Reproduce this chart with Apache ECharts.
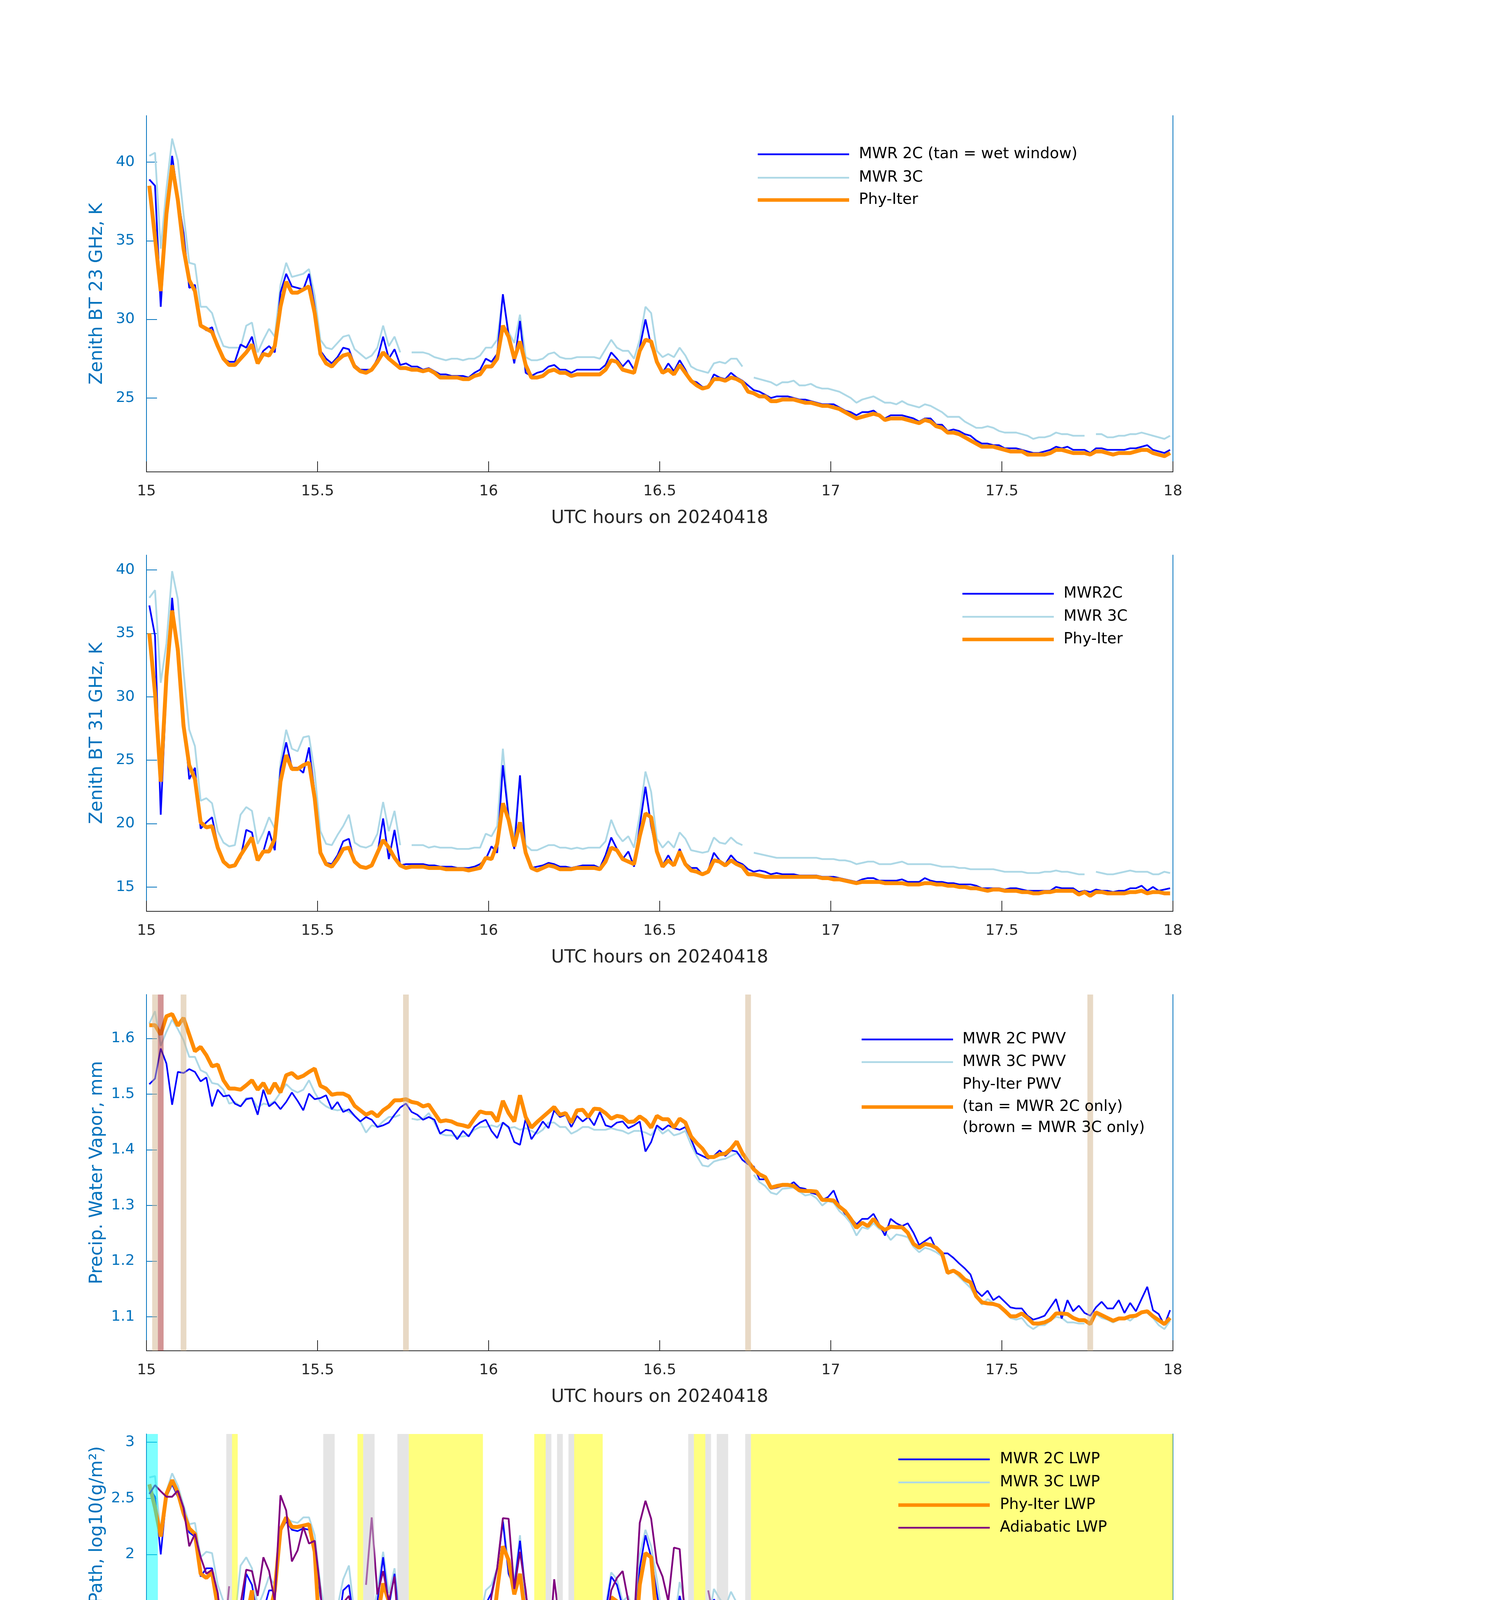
<!DOCTYPE html>
<html>
<head>
<meta charset="utf-8">
<title>MWR retrievals 20240418</title>
<script src="https://cdn.jsdelivr.net/npm/echarts@6.0.0/dist/echarts.min.js"></script>
<style>
html, body { margin: 0; padding: 0; background: #fff; }
#main { width: 3825px; height: 6000px; }
</style>
</head>
<body>
<div id="main"></div>
<script>
//start hour of the one-minute grid (values sit in the middle of each minute)
var T0 = 15;

//23 GHz brightness temperature, K
var tb23Mwr2c = [
    38.9, 38.5, 30.8, 36.6, 40.4, 37.8, 35.5, 32.0, 32.2, 29.6,
    29.3, 29.5, 28.3, 27.5, 27.3, 27.3, 28.4, 28.2, 28.9, 27.3,
    28.0, 28.3, 27.9, 31.7, 32.9, 32.1, 32.0, 31.9, 32.9, 30.8,
    28.0, 27.5, 27.2, 27.6, 28.2, 28.1, 27.1, 26.8, 26.8, 26.8,
    27.5, 28.9, 27.5, 28.1, 27.1, 27.2, 27.0, 27.0, 26.8, 26.9,
    26.7, 26.5, 26.5, 26.4, 26.4, 26.4, 26.3, 26.6, 26.8, 27.5,
    27.3, 27.8, 31.6, 29.0, 27.2, 29.9, 26.6, 26.4, 26.6, 26.7,
    27.0, 27.1, 26.8, 26.8, 26.6, 26.8, 26.8, 26.8, 26.8, 26.8,
    27.1, 27.9, 27.5, 27.0, 27.4, 26.8, 28.2, 30.0, 28.3, 27.3,
    26.6, 27.2, 26.7, 27.4, 26.8, 26.1, 26.0, 25.7, 25.7, 26.5,
    26.3, 26.2, 26.6, 26.3, 26.1, 25.8, 25.5, 25.4, 25.2, 25.0,
    25.1, 25.1, 25.1, 25.0, 24.9, 24.9, 24.8, 24.7, 24.6, 24.6,
    24.6, 24.4, 24.2, 24.1, 23.9, 24.1, 24.1, 24.2, 23.9, 23.7,
    23.9, 23.9, 23.9, 23.8, 23.7, 23.5, 23.7, 23.7, 23.3, 23.3,
    22.9, 23.0, 22.9, 22.7, 22.6, 22.3, 22.1, 22.1, 22.0, 22.0,
    21.8, 21.8, 21.8, 21.7, 21.6, 21.5, 21.5, 21.6, 21.7, 21.9,
    21.8, 21.9, 21.7, 21.7, 21.7, 21.5, 21.8, 21.8, 21.7, 21.7,
    21.7, 21.7, 21.8, 21.8, 21.9, 22.0, 21.7, 21.6, 21.5, 21.7
];
var tb23Mwr3c = [
    40.4, 40.6, 34.5, 38.3, 41.5, 40.1, 36.7, 33.6, 33.5, 30.8,
    30.8, 30.4, 29.2, 28.3, 28.2, 28.2, 28.2, 29.6, 29.8, 27.9,
    28.7, 29.4, 28.9, 32.2, 33.6, 32.7, 32.8, 32.9, 33.2, 31.5,
    28.7, 28.2, 28.1, 28.5, 28.9, 29.0, 28.1, 27.8, 27.5, 27.7,
    28.2, 29.6, 28.3, 28.9, 27.9, null, 27.9, 27.9, 27.9, 27.8,
    27.6, 27.5, 27.4, 27.5, 27.5, 27.4, 27.5, 27.5, 27.7, 28.2,
    28.2, 28.7, 31.5, 29.2, 28.5, 30.3, 27.6, 27.4, 27.4, 27.5,
    27.8, 27.9, 27.6, 27.5, 27.5, 27.6, 27.6, 27.6, 27.6, 27.5,
    28.1, 28.7, 28.2, 28.0, 28.0, 27.5, 28.7, 30.8, 30.4, 28.0,
    27.6, 27.8, 27.6, 28.2, 27.7, 27.0, 26.8, 26.7, 26.6, 27.2,
    27.3, 27.2, 27.5, 27.5, 27.0, null, 26.3, 26.2, 26.1, 26.0,
    25.8, 26.0, 26.0, 26.1, 25.8, 25.8, 25.9, 25.7, 25.6, 25.6,
    25.5, 25.4, 25.2, 25.0, 24.7, 24.9, 25.0, 25.1, 24.9, 24.7,
    24.7, 24.6, 24.8, 24.6, 24.5, 24.4, 24.6, 24.5, 24.3, 24.1,
    23.8, 23.8, 23.8, 23.5, 23.3, 23.1, 23.1, 23.2, 23.1, 22.9,
    22.8, 22.8, 22.8, 22.7, 22.6, 22.4, 22.5, 22.5, 22.6, 22.8,
    22.7, 22.7, 22.6, 22.6, 22.6, null, 22.7, 22.7, 22.5, 22.5,
    22.6, 22.6, 22.7, 22.7, 22.8, 22.7, 22.6, 22.5, 22.4, 22.6
];
var tb23PhyIter = [
    38.5, 35.2, 31.8, 36.7, 39.8, 37.6, 34.5, 32.5, 31.8, 29.6,
    29.4, 29.2, 28.3, 27.5, 27.1, 27.1, 27.5, 27.9, 28.4, 27.2,
    27.8, 27.7, 28.3, 30.8, 32.4, 31.7, 31.7, 31.9, 32.1, 30.4,
    27.8, 27.2, 27.0, 27.4, 27.7, 27.8, 27.0, 26.7, 26.6, 26.8,
    27.3, 27.9, 27.5, 27.2, 26.9, 26.9, 26.8, 26.8, 26.7, 26.8,
    26.6, 26.3, 26.3, 26.3, 26.3, 26.2, 26.2, 26.4, 26.5, 27.0,
    27.0, 27.5, 29.6, 28.9, 27.5, 28.6, 27.1, 26.3, 26.3, 26.4,
    26.7, 26.8, 26.6, 26.6, 26.4, 26.5, 26.5, 26.5, 26.5, 26.5,
    26.8, 27.4, 27.3, 26.8, 26.7, 26.6, 28.0, 28.7, 28.6, 27.3,
    26.6, 26.8, 26.5, 27.1, 26.6, 26.1, 25.8, 25.6, 25.7, 26.2,
    26.2, 26.1, 26.3, 26.2, 26.0, 25.4, 25.3, 25.1, 25.1, 24.8,
    24.8, 24.9, 24.9, 24.9, 24.8, 24.7, 24.7, 24.6, 24.5, 24.5,
    24.4, 24.3, 24.1, 23.9, 23.7, 23.8, 23.9, 24.0, 23.9, 23.6,
    23.7, 23.7, 23.7, 23.6, 23.5, 23.4, 23.6, 23.5, 23.2, 23.1,
    22.8, 22.8, 22.7, 22.5, 22.3, 22.1, 21.9, 21.9, 21.9, 21.8,
    21.7, 21.6, 21.6, 21.6, 21.4, 21.4, 21.4, 21.4, 21.5, 21.7,
    21.7, 21.6, 21.5, 21.5, 21.5, 21.4, 21.6, 21.6, 21.5, 21.4,
    21.5, 21.5, 21.5, 21.6, 21.7, 21.7, 21.5, 21.4, 21.3, 21.5
];
var tb23PhyIterErr = 0.2;

//31 GHz brightness temperature, K
var tb31Mwr2c = [
    37.2, 34.8, 20.7, 30.7, 37.8, 32.9, 28.5, 23.5, 24.4, 19.6,
    20.1, 20.5, 18.3, 17.1, 16.7, 16.7, 17.3, 19.5, 19.3, 17.1,
    17.8, 19.4, 17.9, 24.3, 26.4, 24.4, 24.4, 24.0, 26.0, 22.4,
    17.8, 16.9, 16.8, 17.5, 18.6, 18.8, 16.9, 16.6, 16.5, 16.7,
    17.6, 20.4, 17.2, 19.5, 16.7, 16.8, 16.8, 16.8, 16.8, 16.7,
    16.7, 16.6, 16.6, 16.6, 16.5, 16.5, 16.5, 16.6, 16.8, 17.2,
    18.2, 17.7, 24.6, 20.5, 18.0, 23.8, 17.5, 16.5, 16.6, 16.7,
    16.9, 16.8, 16.6, 16.6, 16.5, 16.6, 16.7, 16.7, 16.7, 16.5,
    17.5, 18.9, 18.0, 17.2, 17.8, 16.6, 19.8, 22.9, 19.8, 17.7,
    16.7, 17.5, 16.7, 18.0, 16.9, 16.5, 16.5, 16.0, 16.3, 17.7,
    17.1, 16.8, 17.5, 17.0, 16.8, 16.4, 16.2, 16.3, 16.2, 16.0,
    16.1, 16.0, 16.0, 16.0, 15.9, 15.9, 15.9, 15.9, 15.8, 15.8,
    15.8, 15.7, 15.6, 15.5, 15.4, 15.6, 15.7, 15.7, 15.5, 15.5,
    15.5, 15.5, 15.6, 15.4, 15.4, 15.4, 15.7, 15.5, 15.4, 15.4,
    15.3, 15.3, 15.2, 15.2, 15.2, 15.1, 14.9, 14.9, 14.9, 14.9,
    14.8, 14.9, 14.9, 14.8, 14.7, 14.7, 14.7, 14.7, 14.7, 15.0,
    14.9, 14.9, 14.9, 14.6, 14.7, 14.6, 14.8, 14.7, 14.7, 14.6,
    14.7, 14.7, 14.9, 14.9, 15.1, 14.7, 15.0, 14.7, 14.8, 14.9
];
var tb31Mwr3c = [
    37.8, 38.4, 31.1, 34.2, 39.9, 37.7, 32.0, 27.4, 26.1, 21.8,
    22.0, 21.6, 19.4, 18.5, 18.2, 18.3, 20.7, 21.3, 21.0, 18.4,
    19.3, 20.5, 19.6, 24.8, 27.4, 25.9, 25.7, 26.8, 26.9, 24.0,
    19.4, 18.4, 18.3, 19.1, 19.8, 20.7, 18.5, 18.2, 18.1, 18.3,
    19.2, 21.7, 19.4, 21.0, 18.3, null, 18.3, 18.3, 18.3, 18.1,
    18.2, 18.1, 18.1, 18.1, 18.0, 18.0, 18.0, 18.1, 18.1, 19.2,
    19.0, 19.8, 25.9, 20.7, 18.8, 23.8, 18.3, 17.9, 17.9, 18.1,
    18.3, 18.3, 18.1, 18.1, 18.0, 18.1, 18.0, 18.1, 18.1, 18.1,
    18.6, 20.3, 19.2, 18.6, 19.0, 18.1, 20.7, 24.1, 22.5, 18.8,
    18.1, 18.6, 18.1, 19.3, 18.8, 17.9, 17.8, 17.7, 17.8, 18.9,
    18.5, 18.4, 18.9, 18.5, 18.3, null, 17.7, 17.6, 17.5, 17.4,
    17.3, 17.3, 17.3, 17.3, 17.3, 17.3, 17.3, 17.3, 17.2, 17.2,
    17.2, 17.1, 17.1, 17.0, 16.8, 16.9, 17.0, 17.0, 16.8, 16.8,
    16.8, 16.9, 17.0, 16.8, 16.8, 16.8, 16.8, 16.8, 16.7, 16.6,
    16.6, 16.6, 16.5, 16.5, 16.4, 16.4, 16.4, 16.4, 16.4, 16.3,
    16.2, 16.2, 16.2, 16.2, 16.1, 16.1, 16.1, 16.2, 16.2, 16.3,
    16.2, 16.2, 16.1, 16.0, 16.0, null, 16.2, 16.1, 16.0, 16.0,
    16.1, 16.2, 16.3, 16.2, 16.2, 16.2, 16.0, 16.0, 16.2, 16.1
];
var tb31PhyIter = [
    35.0, 30.3, 23.3, 31.6, 36.8, 33.7, 27.7, 24.6, 23.5, 20.1,
    19.7, 19.8, 18.1, 17.0, 16.6, 16.7, 17.5, 18.2, 18.9, 17.1,
    17.8, 17.8, 18.8, 23.3, 25.4, 24.3, 24.3, 24.6, 24.8, 22.0,
    17.7, 16.8, 16.6, 17.2, 18.0, 18.1, 17.0, 16.6, 16.5, 16.7,
    17.7, 18.7, 18.1, 17.3, 16.7, 16.5, 16.6, 16.6, 16.6, 16.5,
    16.5, 16.5, 16.4, 16.4, 16.4, 16.4, 16.3, 16.4, 16.5, 17.3,
    17.2, 18.4, 21.6, 20.3, 18.2, 20.1, 17.7, 16.5, 16.3, 16.5,
    16.7, 16.6, 16.4, 16.4, 16.4, 16.5, 16.5, 16.5, 16.5, 16.4,
    17.0, 18.1, 17.9, 17.2, 17.0, 16.8, 19.0, 20.8, 20.5, 17.8,
    16.6, 17.1, 16.7, 17.8, 16.8, 16.3, 16.2, 16.0, 16.2, 17.1,
    17.0, 16.7, 17.1, 16.8, 16.6, 16.0, 16.0, 15.9, 15.8, 15.8,
    15.8, 15.8, 15.8, 15.8, 15.8, 15.8, 15.8, 15.8, 15.7, 15.7,
    15.6, 15.6, 15.5, 15.4, 15.3, 15.4, 15.4, 15.4, 15.4, 15.3,
    15.3, 15.3, 15.3, 15.2, 15.2, 15.2, 15.3, 15.3, 15.2, 15.2,
    15.1, 15.1, 15.0, 15.0, 14.9, 14.9, 14.8, 14.7, 14.8, 14.8,
    14.7, 14.7, 14.7, 14.6, 14.6, 14.5, 14.5, 14.6, 14.6, 14.7,
    14.7, 14.7, 14.7, 14.4, 14.6, 14.3, 14.6, 14.6, 14.5, 14.5,
    14.5, 14.5, 14.6, 14.6, 14.7, 14.5, 14.6, 14.6, 14.5, 14.5
];

//precipitable water vapour, mm
var pwvMwr2c = [
    1.518, 1.528, 1.582, 1.555, 1.481, 1.540, 1.538, 1.545, 1.540, 1.523,
    1.530, 1.478, 1.508, 1.496, 1.498, 1.483, 1.478, 1.491, 1.493, 1.463,
    1.508, 1.478, 1.486, 1.473, 1.486, 1.503, 1.488, 1.471, 1.501, 1.491,
    1.493, 1.498, 1.473, 1.486, 1.468, 1.473, 1.461, 1.451, 1.459, 1.454,
    1.441, 1.444, 1.449, 1.463, 1.476, 1.483, 1.468, 1.463, 1.454, 1.459,
    1.454, 1.429, 1.436, 1.434, 1.419, 1.434, 1.424, 1.441, 1.449, 1.454,
    1.434, 1.421, 1.449, 1.441, 1.414, 1.409, 1.456, 1.419, 1.434, 1.451,
    1.439, 1.471, 1.459, 1.463, 1.441, 1.461, 1.451, 1.459, 1.444, 1.468,
    1.444, 1.441, 1.449, 1.451, 1.439, 1.444, 1.451, 1.397, 1.414, 1.444,
    1.436, 1.444, 1.439, 1.436, 1.441, 1.419, 1.394, 1.389, 1.384, 1.389,
    1.399, 1.389, 1.399, 1.397, 1.382, 1.374, 1.370, 1.347, 1.347, 1.330,
    1.332, 1.335, 1.335, 1.342, 1.332, 1.330, 1.323, 1.320, 1.310, 1.315,
    1.327, 1.300, 1.285, 1.278, 1.266, 1.276, 1.276, 1.285, 1.266, 1.246,
    1.276, 1.268, 1.263, 1.268, 1.251, 1.229, 1.236, 1.243, 1.221, 1.214,
    1.214, 1.206, 1.196, 1.187, 1.176, 1.147, 1.137, 1.147, 1.130, 1.137,
    1.127, 1.117, 1.115, 1.115, 1.102, 1.095, 1.098, 1.102, 1.117, 1.132,
    1.097, 1.130, 1.110, 1.120, 1.107, 1.102, 1.117, 1.127, 1.115, 1.115,
    1.130, 1.107, 1.125, 1.110, 1.132, 1.154, 1.112, 1.105, 1.085, 1.112
];
var pwvMwr3c = [
    1.627, 1.649, 1.587, 1.612, 1.634, 1.617, 1.597, 1.567, 1.567, 1.543,
    1.538, 1.520, 1.518, 1.508, 1.483, 1.486, 1.478, 1.493, 1.493, 1.476,
    1.483, 1.481, 1.488, 1.503, 1.518, 1.508, 1.503, 1.508, 1.525, 1.503,
    1.486, 1.478, 1.473, 1.471, 1.473, 1.468, 1.461, 1.451, 1.431, 1.444,
    1.441, 1.451, 1.459, 1.459, 1.463, null, 1.456, 1.454, 1.456, 1.466,
    1.449, 1.429, 1.426, 1.426, 1.424, 1.424, 1.426, 1.436, 1.441, 1.441,
    1.444, 1.441, 1.449, 1.439, 1.441, 1.436, 1.439, 1.434, 1.429, 1.436,
    1.449, 1.449, 1.441, 1.441, 1.429, 1.434, 1.441, 1.441, 1.436, 1.436,
    1.436, 1.439, 1.436, 1.434, 1.429, 1.434, 1.434, 1.431, 1.426, 1.441,
    1.429, 1.436, 1.426, 1.429, 1.434, 1.409, 1.389, 1.372, 1.370, 1.379,
    1.382, 1.384, 1.389, 1.394, 1.389, null, 1.355, 1.342, 1.335, 1.323,
    1.320, 1.330, 1.331, 1.332, 1.325, 1.318, 1.320, 1.313, 1.300, 1.308,
    1.305, 1.290, 1.281, 1.268, 1.246, 1.261, 1.258, 1.268, 1.258, 1.253,
    1.238, 1.248, 1.246, 1.243, 1.226, 1.216, 1.224, 1.221, 1.216, 1.209,
    1.177, 1.182, 1.172, 1.162, 1.152, 1.135, 1.122, 1.132, 1.125, 1.117,
    1.110, 1.098, 1.095, 1.098, 1.085, 1.078, 1.085, 1.085, 1.093, 1.100,
    1.098, 1.090, 1.090, 1.088, 1.088, null, 1.105, 1.098, 1.095, 1.090,
    1.095, 1.099, 1.093, 1.102, 1.110, 1.107, 1.098, 1.085, 1.078, 1.093
];
var pwvPhyIter = [
    1.624, 1.624, 1.607, 1.640, 1.644, 1.623, 1.637, 1.607, 1.577, 1.585,
    1.570, 1.550, 1.553, 1.525, 1.510, 1.510, 1.508, 1.516, 1.525, 1.508,
    1.520, 1.501, 1.520, 1.503, 1.534, 1.538, 1.529, 1.533, 1.540, 1.546,
    1.515, 1.510, 1.499, 1.501, 1.501, 1.496, 1.479, 1.471, 1.463, 1.468,
    1.460, 1.471, 1.478, 1.489, 1.489, 1.491, 1.486, 1.484, 1.478, 1.481,
    1.466, 1.451, 1.453, 1.451, 1.446, 1.444, 1.441, 1.456, 1.469, 1.466,
    1.466, 1.451, 1.488, 1.466, 1.451, 1.498, 1.459, 1.440, 1.450, 1.459,
    1.468, 1.477, 1.463, 1.466, 1.449, 1.471, 1.472, 1.459, 1.474, 1.473,
    1.466, 1.456, 1.461, 1.459, 1.450, 1.451, 1.460, 1.453, 1.440, 1.461,
    1.455, 1.455, 1.440, 1.456, 1.449, 1.424, 1.412, 1.402, 1.387, 1.387,
    1.392, 1.393, 1.402, 1.415, 1.394, 1.379, 1.365, 1.356, 1.351, 1.332,
    1.335, 1.337, 1.337, 1.335, 1.327, 1.326, 1.326, 1.325, 1.310, 1.310,
    1.309, 1.298, 1.290, 1.276, 1.260, 1.269, 1.263, 1.276, 1.263, 1.256,
    1.262, 1.261, 1.261, 1.251, 1.231, 1.224, 1.231, 1.229, 1.224, 1.214,
    1.179, 1.183, 1.177, 1.167, 1.162, 1.137, 1.126, 1.124, 1.123, 1.120,
    1.111, 1.101, 1.101, 1.106, 1.098, 1.088, 1.088, 1.090, 1.095, 1.106,
    1.106, 1.105, 1.098, 1.094, 1.094, 1.087, 1.108, 1.103, 1.098, 1.093,
    1.097, 1.097, 1.101, 1.102, 1.108, 1.110, 1.101, 1.094, 1.087, 1.098
];
var pwvPhyIterErr = 0.009;
//minutes where only one radiometer was used
var pwvTanMinutes = [1, 6, 45, 105, 165];
var pwvBrownMinutes = [2];

//log10 liquid water path, log10(g/m2); -1 means below the axis
var lwpMwr2c = [
    2.588, 2.514, 2.000, 2.514, 2.625, 2.514, 2.416, 2.195, 2.159, 1.803,
    1.877, 1.877, 1.631, 1.386, 1.202, 1.202, 1.386, 1.828, 1.729, 1.435,
    1.496, 1.680, 1.680, 2.208, 2.294, 2.220, 2.208, 2.232, 2.220, 2.097,
    1.631, 1.337, 1.300, 1.312, 1.680, 1.729, 1.349, 1.325, 1.288, 1.325,
    1.582, 1.975, 1.533, 1.828, 1.312, 1.300, 1.349, 1.337, 1.374, 1.312,
    1.239, 1.349, 1.214, 1.263, 1.312, 1.214, 1.288, 1.276, 1.337, 1.558,
    1.656, 1.877, 2.294, 1.828, 1.705, 2.122, 1.656, 1.312, 1.435, 1.362,
    1.435, 1.300, 1.153, 1.251, 1.092, 1.263, 1.337, 1.263, 1.337, 1.288,
    1.484, 1.803, 1.729, 1.533, 1.533, 1.263, 1.877, 2.171, 1.975, 1.656,
    1.349, 1.484, 1.325, 1.631, 1.435, 1.288, 1.312, 1.116, 1.312, 1.600,
    1.533, 1.447, 1.590, 1.484, 1.423, 1.386, 1.288, 1.337, 1.300, 1.337,
    1.263, 1.276, 1.251, 1.300, 1.141, 1.288, 1.214, 1.239, 1.092, 1.276,
    1.165, 1.178, 1.202, 1.251, 1.141, 1.214, 1.239, 1.202, 1.202, 1.153,
    1.129, 1.214, 1.251, 1.006, 1.178, 1.190, 1.349, 1.239, 1.239, 1.251,
    1.349, 1.006, 1.141, 1.227, 1.190, 1.300, 1.153, 1.092, 1.288, 1.202,
    1.153, 1.214, 1.227, 1.165, 1.214, 1.227, 1.251, 1.178, 1.141, 1.337,
    1.153, 1.227, 1.288, 1.006, 1.202, 1.141, 1.214, 1.141, 1.190, 0.957,
    1.116, 1.178, 1.116, 1.214, 1.349, 0.908, 1.288, 1.337, 1.214, 1.263
];
var lwpMwr3c = [
    2.686, 2.698, 2.171, 2.563, 2.723, 2.612, 2.441, 2.269, 2.281, 1.975,
    2.024, 2.012, 1.729, 1.582, 1.398, 1.423, 1.901, 1.975, 1.877, 1.533,
    1.656, 1.803, 1.729, 2.245, 2.318, 2.294, 2.281, 2.330, 2.330, 2.171,
    1.729, 1.411, 1.447, 1.533, 1.779, 1.901, 1.447, 1.423, 1.398, 1.423,
    1.680, 2.024, 1.656, 1.877, 1.435, 1.411, 1.423, 1.435, 1.423, 1.423,
    1.398, 1.386, 1.386, 1.398, 1.398, 1.386, 1.386, 1.398, 1.423, 1.680,
    1.729, 1.877, 2.318, 1.901, 1.754, 2.171, 1.533, 1.386, 1.386, 1.386,
    1.472, 1.484, 1.411, 1.411, 1.398, 1.398, 1.386, 1.411, 1.423, 1.411,
    1.533, 1.840, 1.779, 1.582, 1.631, 1.435, 1.999, 2.220, 2.073, 1.779,
    1.423, 1.558, 1.362, 1.754, 1.558, 1.386, 1.374, 1.374, 1.386, 1.693,
    1.607, 1.533, 1.668, 1.570, 1.533, 1.386, 1.374, 1.374, 1.362, 1.362,
    1.349, 1.337, 1.332, 1.337, 1.325, 1.337, 1.332, 1.349, 1.337, 1.325,
    1.312, 1.308, 1.300, 1.300, 1.263, 1.276, 1.276, 1.263, 1.263, 1.251,
    1.288, 1.288, 1.288, 1.251, 1.251, 1.263, 1.288, 1.276, 1.263, 1.239,
    1.251, 1.251, 1.239, 1.239, 1.251, 1.239, 1.251, 1.239, 1.227, 1.227,
    1.239, 1.227, 1.227, 1.227, 1.214, 1.227, 1.239, 1.214, 1.227, 1.239,
    1.239, 1.239, 1.227, 1.202, 1.214, 1.214, 1.214, 1.202, 1.202, 1.214,
    1.214, 1.227, 1.263, 1.239, 1.239, 1.227, 1.214, 1.227, 1.214, 1.227
];
var lwpPhyIter = [
    2.625, 2.416, 2.159, 2.539, 2.662, 2.551, 2.367, 2.232, 2.183, 1.828,
    1.791, 1.840, 1.533, 0.797, -1, null, 1.165, 1.411, 1.680, 0.920,
    1.374, 1.447, 1.680, 2.220, 2.330, 2.245, 2.245, 2.257, 2.269, 2.024,
    1.165, -1, -1, 1.100, 1.484, 1.570, 1.092, null, 0.356, 0.920,
    1.435, 1.742, 1.582, 1.288, -1, null, null, null, null, null,
    null, null, null, null, null, null, null, null, null, 1.288,
    1.239, 1.680, 2.073, 1.950, 1.644, 1.828, 1.435, 0.699, null, null,
    0.748, -1, null, null, null, null, null, null, null, null,
    1.092, 1.619, 1.582, 1.300, 1.251, 1.092, 1.729, 2.012, 1.975, 1.386,
    0.724, 1.239, 1.116, 1.484, 1.141, 0.380, null, null, 0.699, 1.472,
    1.337, 1.300, 1.411, 1.214, 1.214, 0.748
];
var lwpPhyIterErr = [
    0.07, 0.07, 0.07, 0.07, 0.07, 0.07, 0.07, 0.07, 0.07, 0.08,
    0.08, 0.08, 0.12, 0.4, null, null, 0.4, 0.3, 0.2, 0.7,
    0.35, 0.3, 0.15, 0.06, 0.05, 0.05, 0.05, 0.05, 0.05, 0.08,
    0.35, null, null, 0.5, 0.2, 0.12, 0.3, null, 0.5, 0.4,
    0.2, 0.12, 0.15, 0.3, null, null, null, null, null, null,
    null, null, null, null, null, null, null, null, null, 0.3,
    0.3, 0.15, 0.07, 0.1, 0.15, 0.1, 0.25, 0.35, null, null,
    0.35, null, null, null, null, null, null, null, null, null,
    0.3, 0.12, 0.1, 0.12, 0.15, 0.25, 0.15, 0.08, 0.08, 0.15,
    0.6, 0.2, 0.2, 0.15, 0.3, 0.6, null, null, 0.6, 0.25,
    0.2, 0.2, 0.2, 0.25, 0.25, 0.5
];
var lwpAdiabatic = [
    2.539, 2.617, 2.563, 2.514, 2.514, 2.568, 2.416, 2.073, 2.183, 1.975,
    1.828, 1.864, 1.656, 1.190, 1.717, null, 1.558, 1.864, 1.852, 1.631,
    1.975, 1.852, 1.582, 2.527, 2.392, 1.938, 2.036, 2.245, 2.097, 2.122,
    1.680, 1.092, 1.484, 1.558, 1.570, 1.631, 1.386, null, 1.729, 2.330,
    1.644, 1.852, 1.582, 1.803, 1.104, 1.104, null, null, null, null,
    null, null, null, null, null, null, null, null, null, 1.239,
    1.631, 1.877, 2.323, 2.318, 1.693, 2.024, 1.680, 1.202, null, null,
    1.080, 1.779, 1.374, 1.374, 1.080, null, null, null, null, null,
    1.337, 1.680, 1.791, 1.852, 1.582, 1.386, 2.281, 2.478, 2.318, 1.926,
    1.803, 1.582, 2.061, 2.048, 1.386, 1.092, null, null, 1.680, 1.435,
    1.067, 1.067, 1.349, 1.141, 1.288, 1.067
];
var lwpAdiabaticErr = [
    0.08, 0.08, 0.08, 0.08, 0.08, 0.08, 0.08, 0.08, 0.08, 0.1,
    0.1, 0.1, 0.1, 0.2, 0.3, null, 0.15, 0.15, 0.15, 0.2,
    0.15, 0.15, 0.15, 0.12, 0.12, 0.15, 0.15, 0.12, 0.12, 0.12,
    0.2, 0.3, 0.2, 0.15, 0.15, 0.15, 0.15, null, 0.25, 0.2,
    0.2, 0.15, 0.15, 0.2, 0.3, 0.3, null, null, null, null,
    null, null, null, null, null, null, null, null, null, 0.3,
    0.2, 0.15, 0.1, 0.1, 0.15, 0.12, 0.15, 0.3, null, null,
    0.3, 0.3, 0.35, 0.35, 0.4, null, null, null, null, null,
    0.3, 0.2, 0.15, 0.15, 0.15, 0.2, 0.12, 0.1, 0.12, 0.15,
    0.15, 0.15, 0.15, 0.15, 0.2, 0.3, null, null, 0.35, 0.3,
    0.4, 0.4, 0.35, 0.35, 0.3, 0.3
];

//Phy-Iter data quality flag, one per minute
var dqFlag = [
    11, 11, 0, 0, 0, 0, 0, 0, 0, 0,
    0, 0, 0, 0, 3, 5, 0, 0, 0, 0,
    0, 0, 0, 0, 0, 0, 0, 0, 0, 0,
    0, 4, 3, 0, 0, 0, 0, 5, 3, 3,
    0, 0, 0, 0, 4, 4, 5, 5, 5, 5,
    5, 5, 5, 5, 5, 5, 5, 5, 5, 0,
    0, 0, 0, 0, 0, 6, 0, 0, 5, 5,
    4, 0, 4, 0, 4, 5, 5, 5, 5, 5,
    0, 0, 0, 0, 0, 0, 0, 0, 0, 0,
    0, 0, 0, 0, 0, 4, 5, 5, 3, 0,
    4, 4, 0, 0, 0, 4, 5, 5, 5, 5,
    5, 5, 5, 5, 5, 5, 5, 5, 5, 5,
    5, 5, 5, 5, 5, 5, 5, 5, 5, 5,
    5, 5, 5, 5, 5, 5, 5, 5, 5, 5,
    5, 5, 5, 5, 5, 5, 5, 5, 5, 5,
    5, 5, 5, 5, 5, 5, 5, 5, 5, 5,
    5, 5, 5, 5, 5, 5, 5, 5, 5, 5,
    5, 5, 5, 5, 5, 5, 5, 5, 5, 5
];
//second flag reported in the first minute
var dqFlagExtra = [[0, 10]];

//axis names and tick labels
var xName = 'UTC hours on 20240418';
var panels = [
    { name: 'Zenith BT 23 GHz, K', min: 20.3, max: 42.96, ticks: [25, 30, 35, 40] },
    { name: 'Zenith BT 31 GHz, K', min: 13.08, max: 41.17, ticks: [15, 20, 25, 30, 35, 40] },
    { name: 'Precip. Water Vapor, mm', min: 1.039, max: 1.679, ticks: [1.1, 1.2, 1.3, 1.4, 1.5, 1.6] },
    { name: 'log10 Liquid Water Path, log10(g/m\u00B2)', min: -0.1, max: 3.073, ticks: [0, 0.5, 1, 1.5, 2, 2.5, 3] },
    { name: 'MWR Phy Iter DQ Flag', min: -0.51, max: 11.53, ticks: [0, 2, 4, 6, 8, 10] }
];

var FONT = 'DejaVu Sans';
var AXIS_BLUE = '#0072bd';
var DARK = '#262626';
var BLUE = '#0000ff';
var LIGHTBLUE = '#add8e6';
var ORANGE = '#ff8c00';
var PURPLE = '#800080';

var minuteTime = function (k) {
    return T0 + (k + 0.5) / 60;
};

var toPairs = function (vals) {
    return vals.map(function (v, k) {
        return [minuteTime(k), v == null ? '-' : v];
    });
};

var lineSeries = function (gi, name, vals, color, width, z) {
    return {
        type: 'line', name: name, xAxisIndex: gi, yAxisIndex: gi,
        data: toPairs(vals), symbol: 'none', showSymbol: false,
        color: color, lineStyle: { color: color, width: width },
        connectNulls: false, clip: true, z: z, silent: true
    };
};

//uncertainty band as two stacked lines
var bandSeries = function (gi, id, vals, err, fill) {
    var lower = [];
    var width = [];
    for (var k = 0; k < vals.length; k++) {
        var e = (typeof err === 'number') ? err : err[k];
        var t = minuteTime(k);
        if (vals[k] == null || e == null || vals[k] <= -1) {
            lower.push([t, '-']);
            width.push([t, '-']);
        } else {
            lower.push([t, vals[k] - e]);
            width.push([t, 2 * e]);
        }
    }
    var base = {
        type: 'line', xAxisIndex: gi, yAxisIndex: gi, stack: id, stackStrategy: 'all',
        symbol: 'none', showSymbol: false, connectNulls: false, clip: true,
        lineStyle: { width: 0, opacity: 0 }, z: 1, silent: true
    };
    var s1 = Object.assign({}, base, { name: id + '-lo', data: lower });
    var s2 = Object.assign({}, base, { name: id + '-hi', data: width, areaStyle: { color: fill, opacity: 1 } });
    return [s1, s2];
};

//shaded time spans drawn over the lines
var overlaySeries = function (gi, runs, fill) {
    return {
        type: 'custom', xAxisIndex: gi, yAxisIndex: gi, z: 10, silent: true,
        data: runs,
        renderItem: function (params, api) {
            var cs = params.coordSys;
            var x0 = api.coord([api.value(0), 0])[0];
            var x1 = api.coord([api.value(1), 0])[0];
            return {
                type: 'rect',
                shape: { x: x0, y: cs.y, width: x1 - x0, height: cs.height },
                style: { fill: fill }
            };
        }
    };
};

var minuteRuns = function (minutes) {
    return minutes.map(function (k) { return [T0 + k / 60, T0 + (k + 1) / 60]; });
};

var flagRuns = function (test) {
    var runs = [];
    var start = null;
    for (var k = 0; k <= dqFlag.length; k++) {
        var on = k < dqFlag.length && test(dqFlag[k]);
        if (on && start === null) start = k;
        if (!on && start !== null) {
            runs.push([T0 + start / 60, T0 + k / 60]);
            start = null;
        }
    }
    return runs;
};

//legend rows drawn as plain graphics, above the shading
var legendBlock = function (x1, x2, tx, rows) {
    var els = [];
    rows.forEach(function (r) {
        if (r.color) {
            els.push({
                type: 'line', silent: true, z: 100,
                shape: { x1: x1, y1: r.y, x2: x2, y2: r.y },
                style: { stroke: r.color, lineWidth: r.width }
            });
        }
        els.push({
            type: 'text', silent: true, z: 100, x: tx, y: r.y,
            style: { text: r.text, fill: '#000', fontSize: 39, fontFamily: FONT, verticalAlign: 'middle', align: 'left' }
        });
    });
    return els;
};

var GRID_LEFT = 375;
var GRID_TOP = 296;
var GRID_STEP = 1125;
var GRID_W = 2628;
var GRID_H = 912;

var grids = [];
var xAxes = [];
var yAxes = [];
var rightAxes = [];
panels.forEach(function (p, i) {
    grids.push({ left: GRID_LEFT, top: GRID_TOP + GRID_STEP * i, width: GRID_W, height: GRID_H, outerBoundsMode: 'none' });
    xAxes.push({
        type: 'value', gridIndex: i, min: 15, max: 18, interval: 0.5,
        name: xName, nameLocation: 'middle', nameGap: 96,
        nameTextStyle: { fontSize: 46, color: DARK, fontFamily: FONT },
        axisLine: { show: true, onZero: false, lineStyle: { color: DARK, width: 2 } },
        axisTick: { show: true, inside: true, length: 27, lineStyle: { color: DARK, width: 2 } },
        axisLabel: { fontSize: 38, color: DARK, margin: 31, fontFamily: FONT },
        splitLine: { show: false }
    });
    yAxes.push({
        type: 'value', gridIndex: i, position: 'left', min: p.min, max: p.max,
        name: p.name, nameLocation: 'middle', nameGap: 103, nameRotate: 90, nameMoveOverlap: false,
        nameTextStyle: { fontSize: 46, color: AXIS_BLUE, fontFamily: FONT },
        axisLine: { show: true, onZero: false, lineStyle: { color: AXIS_BLUE, width: 2 } },
        axisTick: { show: true, inside: true, length: 27, customValues: p.ticks, lineStyle: { color: AXIS_BLUE, width: 2 } },
        axisLabel: { fontSize: 38, color: AXIS_BLUE, margin: 30, fontFamily: FONT, customValues: p.ticks },
        splitLine: { show: false }
    });
    rightAxes.push({
        type: 'value', gridIndex: i, position: 'right', min: p.min, max: p.max,
        axisLine: { show: true, onZero: false, lineStyle: { color: AXIS_BLUE, width: 2 } },
        axisTick: { show: false }, axisLabel: { show: false }, splitLine: { show: false }
    });
});

var series = [];
//panel 1
series = series.concat(bandSeries(0, 'b23', tb23PhyIter, tb23PhyIterErr, 'rgba(255,140,0,0.2)'));
series.push(lineSeries(0, 'MWR 3C', tb23Mwr3c, LIGHTBLUE, 4.6, 2));
series.push(lineSeries(0, 'MWR 2C (tan = wet window)', tb23Mwr2c, BLUE, 4.4, 3));
series.push(lineSeries(0, 'Phy-Iter', tb23PhyIter, ORANGE, 10, 4));
//panel 2
series.push(lineSeries(1, 'MWR 3C', tb31Mwr3c, LIGHTBLUE, 4.6, 2));
series.push(lineSeries(1, 'MWR2C', tb31Mwr2c, BLUE, 4.4, 3));
series.push(lineSeries(1, 'Phy-Iter', tb31PhyIter, ORANGE, 10, 4));
//panel 3
series = series.concat(bandSeries(2, 'bpwv', pwvPhyIter, pwvPhyIterErr, 'rgba(255,140,0,0.2)'));
series.push(lineSeries(2, 'MWR 3C PWV', pwvMwr3c, LIGHTBLUE, 4.6, 2));
series.push(lineSeries(2, 'MWR 2C PWV', pwvMwr2c, BLUE, 4.2, 3));
series.push(lineSeries(2, 'Phy-Iter PWV', pwvPhyIter, ORANGE, 10, 4));
series.push(overlaySeries(2, minuteRuns(pwvTanMinutes), 'rgba(210,180,140,0.5)'));
series.push(overlaySeries(2, minuteRuns(pwvBrownMinutes), 'rgba(165,42,42,0.5)'));
//panel 4
series = series.concat(bandSeries(3, 'blwp', lwpPhyIter, lwpPhyIterErr, 'rgba(255,140,0,0.2)'));
series = series.concat(bandSeries(3, 'badi', lwpAdiabatic, lwpAdiabaticErr, 'rgba(128,0,128,0.2)'));
series.push(lineSeries(3, 'MWR 3C LWP', lwpMwr3c, LIGHTBLUE, 4.6, 2));
series.push(lineSeries(3, 'MWR 2C LWP', lwpMwr2c, BLUE, 4.2, 3));
series.push(lineSeries(3, 'Phy-Iter LWP', lwpPhyIter, ORANGE, 10, 4));
series.push(lineSeries(3, 'Adiabatic LWP', lwpAdiabatic, PURPLE, 4.6, 5));
series.push(overlaySeries(3, flagRuns(function (f) { return f >= 10; }), 'rgba(0,255,255,0.5)'));
series.push(overlaySeries(3, flagRuns(function (f) { return f === 3 || f === 4; }), 'rgba(204,204,204,0.5)'));
series.push(overlaySeries(3, flagRuns(function (f) { return f === 5; }), 'rgba(255,255,0,0.5)'));
//panel 5
var flagPoints = dqFlag.map(function (f, k) { return [minuteTime(k), f]; });
dqFlagExtra.forEach(function (e) { flagPoints.push([minuteTime(e[0]), e[1]]); });
series.push({
    type: 'scatter', name: 'DQ flag', xAxisIndex: 4, yAxisIndex: 4,
    data: flagPoints, symbol: 'circle', symbolSize: 8,
    itemStyle: { color: ORANGE }, silent: true
});

var graphics = []
    .concat(legendBlock(1940, 2174, 2199, [
        { y: 395, text: 'MWR 2C (tan = wet window)', color: BLUE, width: 4.6 },
        { y: 455, text: 'MWR 3C', color: LIGHTBLUE, width: 4.6 },
        { y: 512, text: 'Phy-Iter', color: ORANGE, width: 9 }
    ]))
    .concat(legendBlock(2464, 2698, 2723, [
        { y: 1520, text: 'MWR2C', color: BLUE, width: 4.6 },
        { y: 1579, text: 'MWR 3C', color: LIGHTBLUE, width: 4.6 },
        { y: 1637, text: 'Phy-Iter', color: ORANGE, width: 9 }
    ]))
    .concat(legendBlock(2206, 2440, 2464, [
        { y: 2661, text: 'MWR 2C PWV', color: BLUE, width: 4.6 },
        { y: 2719, text: 'MWR 3C PWV', color: LIGHTBLUE, width: 4.6 },
        { y: 2777, text: 'Phy-Iter PWV' },
        { y: 2834, text: '(tan = MWR 2C only)', color: ORANGE, width: 9 },
        { y: 2888, text: '(brown = MWR 3C only)' }
    ]))
    .concat(legendBlock(2300, 2534, 2560, [
        { y: 3736, text: 'MWR 2C LWP', color: BLUE, width: 4.6 },
        { y: 3795, text: 'MWR 3C LWP', color: LIGHTBLUE, width: 4.6 },
        { y: 3853, text: 'Phy-Iter LWP', color: ORANGE, width: 9 },
        { y: 3911, text: 'Adiabatic LWP', color: PURPLE, width: 4.6 }
    ]));

var chart = echarts.init(document.getElementById('main'));
chart.setOption({
    backgroundColor: '#fff',
    animation: false,
    textStyle: { fontFamily: FONT },
    grid: grids,
    xAxis: xAxes,
    yAxis: yAxes.concat(rightAxes),
    series: series,
    graphic: { elements: graphics }
});
</script>
</body>
</html>
